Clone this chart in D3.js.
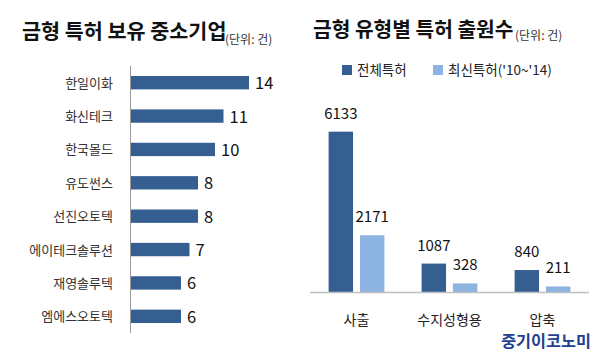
<!DOCTYPE html>
<html><head><meta charset="utf-8">
<script src="https://cdn.jsdelivr.net/npm/d3@7"></script>
<style>
body{margin:0;background:#fff;}
text{font-family:"Noto Sans CJK KR","Noto Sans",sans-serif;}
</style></head>
<body>
<svg id="c" width="600" height="357"></svg>
<script>
// Left chart data
const companies = ["한일이화","화신테크","한국몰드","유도썬스","선진오토텍","에이테크솔루션","재영솔루텍","엠에스오토텍"];
const companyPatents = [14,11,10,8,8,7,6,6];
// Right chart data
const types = ["사출","수지성형용","압축"];
const seriesNames = ["전체특허","최신특허('10~'14)"];
const totalPatents = [6133,1087,840];
const recentPatents = [2171,328,211];

const dark = "#355f91", light = "#8db3e2";
const svg = d3.select("#c");

// ---------- Left chart ----------
const lx = d3.scaleLinear().domain([0,14]).range([130,249]);
const ly = d3.scaleBand().domain(companies).range([66,333]).paddingInner(0.6).paddingOuter(0.3);
const L = svg.append("g");
L.append("text").attr("x",22).attr("y",39).attr("font-size",20.7).attr("font-weight",700).attr("fill","#111")
  .text("금형 특허 보유 중소기업");
L.append("text").attr("x",225).attr("y",44).attr("font-size",12).attr("fill","#333").text("(단위: 건)");

L.selectAll("rect").data(companies).join("rect")
  .attr("x",lx(0)).attr("y",d=>ly(d)).attr("height",ly.bandwidth())
  .attr("width",(d,i)=>lx(companyPatents[i])-lx(0)).attr("fill",dark);
L.selectAll("text.v").data(companies).join("text").attr("class","v")
  .attr("x",(d,i)=>lx(companyPatents[i])+6).attr("y",d=>ly(d)+ly.bandwidth()/2+6.5)
  .attr("font-size",16.5).attr("fill","#111").text((d,i)=>companyPatents[i]);
L.selectAll("text.c").data(companies).join("text").attr("class","c")
  .attr("x",113).attr("y",d=>ly(d)+ly.bandwidth()/2+5).attr("text-anchor","end")
  .attr("font-size",13).attr("fill","#333").text(d=>d);
L.append("line").attr("x1",130.5).attr("x2",130.5).attr("y1",66).attr("y2",333).attr("stroke","#9a9a9a");

// ---------- Right chart ----------
const R = svg.append("g");
R.append("text").attr("x",313).attr("y",37).attr("font-size",20.3).attr("font-weight",700).attr("fill","#111")
  .text("금형 유형별 특허 출원수");
R.append("text").attr("x",515).attr("y",40).attr("font-size",12).attr("fill","#333").text("(단위: 건)");

const lg = [{x:342,c:dark},{x:433,c:light}];
lg.forEach((l,i)=>{
  R.append("rect").attr("x",l.x).attr("y",65).attr("width",10).attr("height",10).attr("fill",l.c);
  R.append("text").attr("x",l.x+15).attr("y",75).attr("font-size",13.5).attr("fill","#222").text(seriesNames[i]);
});

const x0 = d3.scaleBand().domain(types).range([310,589]).paddingInner(0.4).paddingOuter(0.2);
const x1 = d3.scaleBand().domain([0,1]).range([0,x0.bandwidth()]).paddingInner(0.22);
const y = d3.scaleLinear().domain([0,7000]).range([292,109]);
const vals = [totalPatents, recentPatents];
const cols = [dark, light];
const g = R.selectAll("g.grp").data(types).join("g").attr("class","grp")
  .attr("transform",d=>`translate(${x0(d)},0)`);
[0,1].forEach(s=>{
  g.append("rect").attr("x",x1(s)).attr("width",x1.bandwidth())
    .attr("y",(d,i)=>y(vals[s][i])).attr("height",(d,i)=>y(0)-y(vals[s][i])).attr("fill",cols[s]);
  g.append("text").attr("x",x1(s)+x1.bandwidth()/2).attr("y",(d,i)=>y(vals[s][i])-13)
    .attr("text-anchor","middle").attr("font-size",15).attr("fill","#111").text((d,i)=>vals[s][i]);
});
R.append("line").attr("x1",310).attr("x2",589).attr("y1",292.5).attr("y2",292.5).attr("stroke","#c0c0c0").attr("stroke-width",1.5);
R.selectAll("text.cat").data(types).join("text").attr("class","cat")
  .attr("x",d=>x0(d)+x0.bandwidth()/2).attr("y",325).attr("text-anchor","middle")
  .attr("font-size",14).attr("fill","#222").text(d=>d);

svg.append("text").attr("x",591).attr("y",347).attr("text-anchor","end").attr("font-size",16.3)
  .attr("font-weight",700).attr("fill","#233f8f").text("중기이코노미");
</script>
</body></html>
